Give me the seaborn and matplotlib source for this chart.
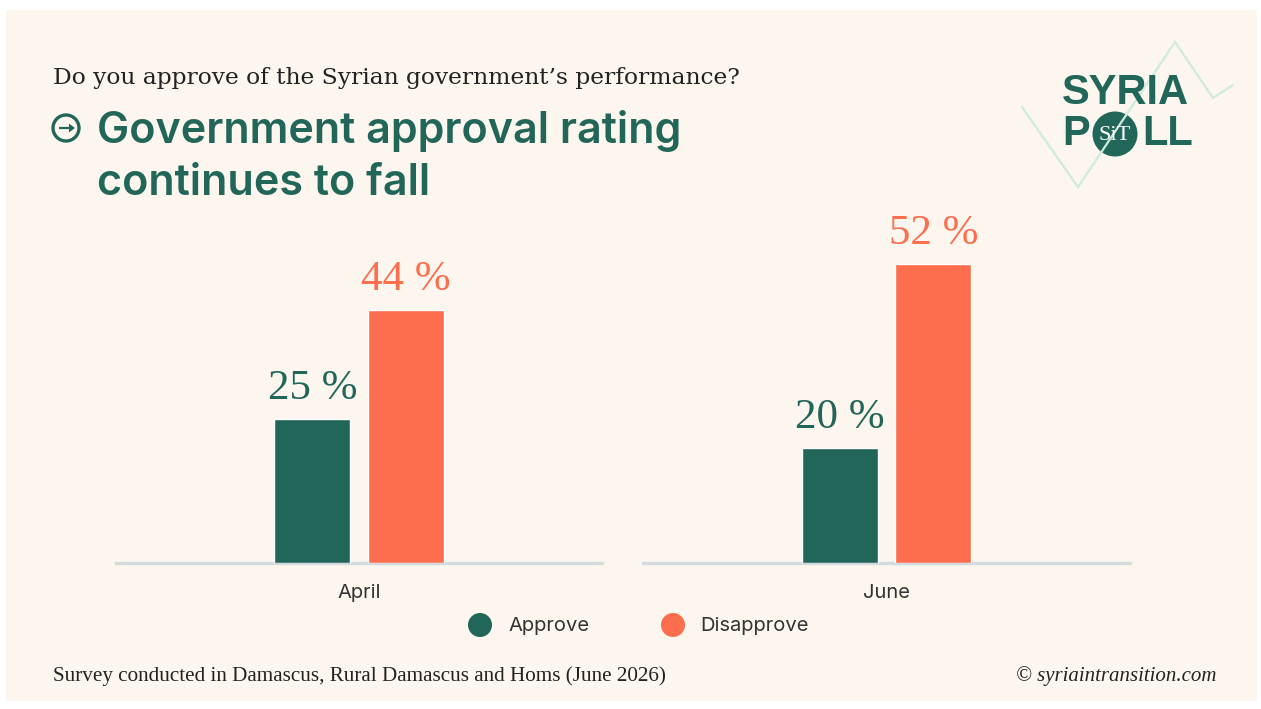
import matplotlib
matplotlib.use("Agg")
import matplotlib.pyplot as plt
from matplotlib.patches import Rectangle, Circle, FancyArrow
import seaborn as sns
import pandas as pd

# ---- data ----
months = ["April", "June"]
responses = ["Approve", "Disapprove"]
approve = [25, 20]
disapprove = [44, 52]

GREEN = "#22665a"
ORANGE = "#fc6e4e"
CARD = "#fcf6ee"
MINT = "#cfeadf"
AXIS_LINE = "#d3dbe0"

df = pd.DataFrame({
    "month": [m for m in months for _ in responses],
    "response": responses * len(months),
    "share": [v for pair in zip(approve, disapprove) for v in pair],
})

sns.set_theme(style="white")
plt.rcParams["font.family"] = ["Inter", "DejaVu Sans"]

W, H = 1261, 709
fig = plt.figure(figsize=(W / 100, H / 100), dpi=100, facecolor="white")

# decoration layer in pixel coordinates (origin top-left)
deco = fig.add_axes([0, 0, 1, 1], zorder=0)
deco.set_xlim(0, W)
deco.set_ylim(H, 0)
deco.axis("off")
deco.add_patch(Rectangle((6, 10), 1251, 691, facecolor=CARD, edgecolor="none"))

# ---- header ----
deco.text(53, 84, "Do you approve of the Syrian government’s performance?",
          fontsize=16.8, family="DejaVu Serif", color="#222222", va="baseline")
deco.add_patch(Circle((66, 128), 13, facecolor="none", edgecolor=GREEN, lw=2.4))
deco.add_patch(FancyArrow(59, 128, 10, 0, width=2.2, head_width=9, head_length=6,
                          length_includes_head=False, color=GREEN, lw=0))
deco.text(97, 143, "Government approval rating", fontsize=31, weight="semibold",
          color=GREEN, va="baseline")
deco.text(97, 195, "continues to fall", fontsize=31, weight="semibold",
          color=GREEN, va="baseline")

# ---- logo ----
deco.plot([1022, 1078, 1175, 1213, 1233], [107, 187, 42, 98, 85],
          color=MINT, lw=1.6, solid_joinstyle="miter")
deco.text(1062, 104, "SYRIA", fontsize=30, weight="bold", family="Liberation Sans",
          color=GREEN, va="baseline")
deco.text(1062, 145, "P", fontsize=30, weight="bold", family="Liberation Sans",
          color=GREEN, va="baseline")
deco.text(1142, 145, "LL", fontsize=30, weight="bold", family="Liberation Sans",
          color=GREEN, va="baseline")
deco.add_patch(Circle((1115, 134), 22.5, facecolor=GREEN, edgecolor="none"))
deco.text(1115, 135, "SiT", fontsize=16, family="Liberation Serif", color="white",
          ha="center", va="center")

# ---- panels ----
panel_px = [(116, 602), (643, 1130)]
bottom_px, height_px = 563, 362
ymax = 63
for month, (x0, x1) in zip(months, panel_px):
    ax = fig.add_axes([x0 / W, (H - bottom_px) / H, (x1 - x0) / W, height_px / H], zorder=1)
    ax.set_facecolor("none")
    sub = df[df["month"] == month]
    sns.barplot(data=sub, x="month", y="share", hue="response", hue_order=responses,
                palette=[GREEN, ORANGE], gap=0.19, saturation=1, legend=False, ax=ax)
    for container, color in zip(ax.containers, [GREEN, ORANGE]):
        ax.bar_label(container, fmt="{:.0f} %", padding=8, fontsize=31,
                     family="Liberation Serif", color=color)
    ax.set_xlim(-1.04, 1.04)
    ax.set_ylim(0, ymax)
    ax.set_xlabel("")
    ax.set_ylabel("")
    ax.set_yticks([])
    ax.tick_params(axis="x", length=0, pad=15, labelsize=14.5, labelcolor="#333333")
    for side in ["top", "left", "right"]:
        ax.spines[side].set_visible(False)
    ax.spines["bottom"].set_color(AXIS_LINE)
    ax.spines["bottom"].set_linewidth(2.4)
    ax.spines["bottom"].set_zorder(0)

# ---- legend ----
for (cx, tx), label, color in zip([(480, 508), (673, 700)], responses, [GREEN, ORANGE]):
    deco.add_patch(Circle((cx, 625), 12, facecolor=color, edgecolor="none"))
    deco.text(tx, 626, label, fontsize=14.5, color="#333333", va="center")

# ---- footer ----
deco.text(53, 681, "Survey conducted in Damascus, Rural Damascus and Homs (June 2026)",
          fontsize=15.2, family="Liberation Serif", color="#222222", va="baseline")
deco.text(1216, 681, "© syriaintransition.com", fontsize=15, family="Liberation Serif",
          style="italic", color="#222222", ha="right", va="baseline")

fig.savefig("out.png", dpi=100, facecolor="white")
